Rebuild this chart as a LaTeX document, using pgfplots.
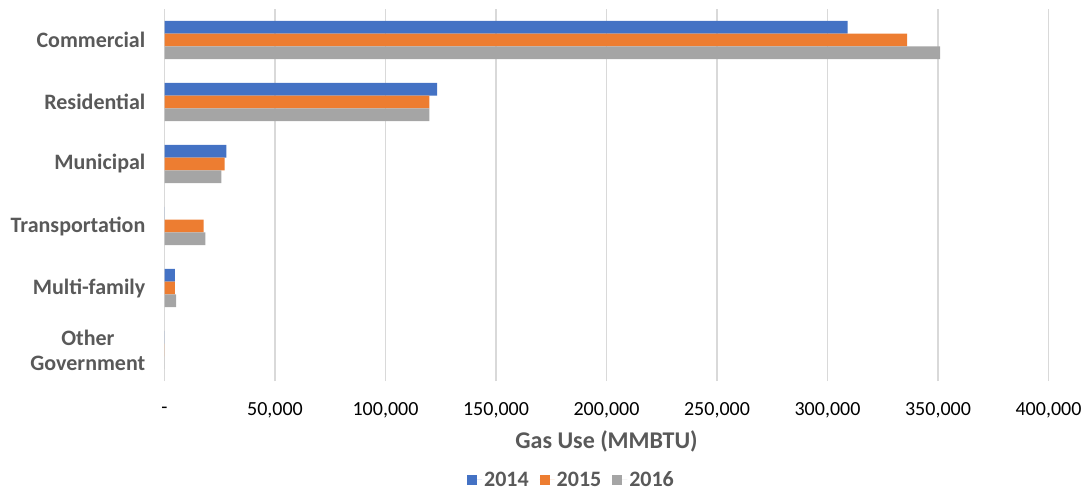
\documentclass[border=0pt]{standalone}
\usepackage{pgfplots}
\pgfplotsset{compat=1.18}
\usepackage{fontspec}
\setmainfont{Carlito}
\definecolor{c14}{HTML}{4472C4}
\definecolor{c15}{HTML}{ED7D31}
\definecolor{c16}{HTML}{A5A5A5}
\definecolor{txt}{HTML}{595959}
\definecolor{grd}{HTML}{D9D9D9}
\begin{document}
\begin{tikzpicture}
\useasboundingbox (0,0) rectangle (1091bp,-491bp);
\begin{axis}[
  at={(164.5bp,-9bp)}, anchor=north west,
  scale only axis, width=884bp, height=372bp,
  xmin=0, xmax=400000, ymin=-0.5, ymax=5.5,
  xbar, bar width=12.7bp,
  axis line style={draw=none},
  major tick length=0pt,
  xmajorgrids, grid style={draw=grd, line width=1.2bp},
  xtick={0,50000,100000,150000,200000,250000,300000,350000,400000},
  xticklabels={-,{50,000},{100,000},{150,000},{200,000},{250,000},{300,000},{350,000},{400,000}},
  scaled x ticks=false,
  xticklabel style={font=\fontsize{20bp}{24bp}\selectfont, text=black, anchor=center, yshift=-29bp, inner sep=0pt},
  ytick={0,1,2,3,4,5},
  yticklabels={{Other\\Government},Multi-family,Transportation,Municipal,Residential,Commercial},
  yticklabel style={font=\fontsize{22bp}{25bp}\selectfont\bfseries, text=txt, align=center, anchor=east, inner sep=0pt, xshift=-19bp},
  xlabel={Gas Use (MMBTU)},
  xlabel style={font=\fontsize{24bp}{28bp}\selectfont\bfseries, text=txt, at={(axis description cs:0.5,0)}, anchor=center, yshift=-60bp},
  legend columns=3,
  legend style={draw=none, fill=none, at={(axis description cs:0.4604,-0.266)}, anchor=center,
    font=\fontsize{22bp}{26bp}\selectfont\bfseries, text=txt,
    /tikz/every even column/.append style={column sep=9bp}},
  legend image code/.code={\fill[#1] (0bp,-5bp) rectangle (10bp,5bp); \path (0bp,0bp) -- (15bp,0bp);},
]
\addplot[fill=c14, draw=none, bar shift=12.7bp] coordinates {(309100,5) (123400,4) (28000,3) (0,2) (4750,1) (0,0)};
\addplot[fill=c15, draw=none, bar shift=0bp] coordinates {(336000,5) (119800,4) (27200,3) (17700,2) (4750,1) (0,0)};
\addplot[fill=c16, draw=none, bar shift=-12.7bp] coordinates {(351000,5) (119800,4) (25700,3) (18500,2) (5300,1) (0,0)};
\legend{2014,2015,2016}
\end{axis}
\end{tikzpicture}
\end{document}
